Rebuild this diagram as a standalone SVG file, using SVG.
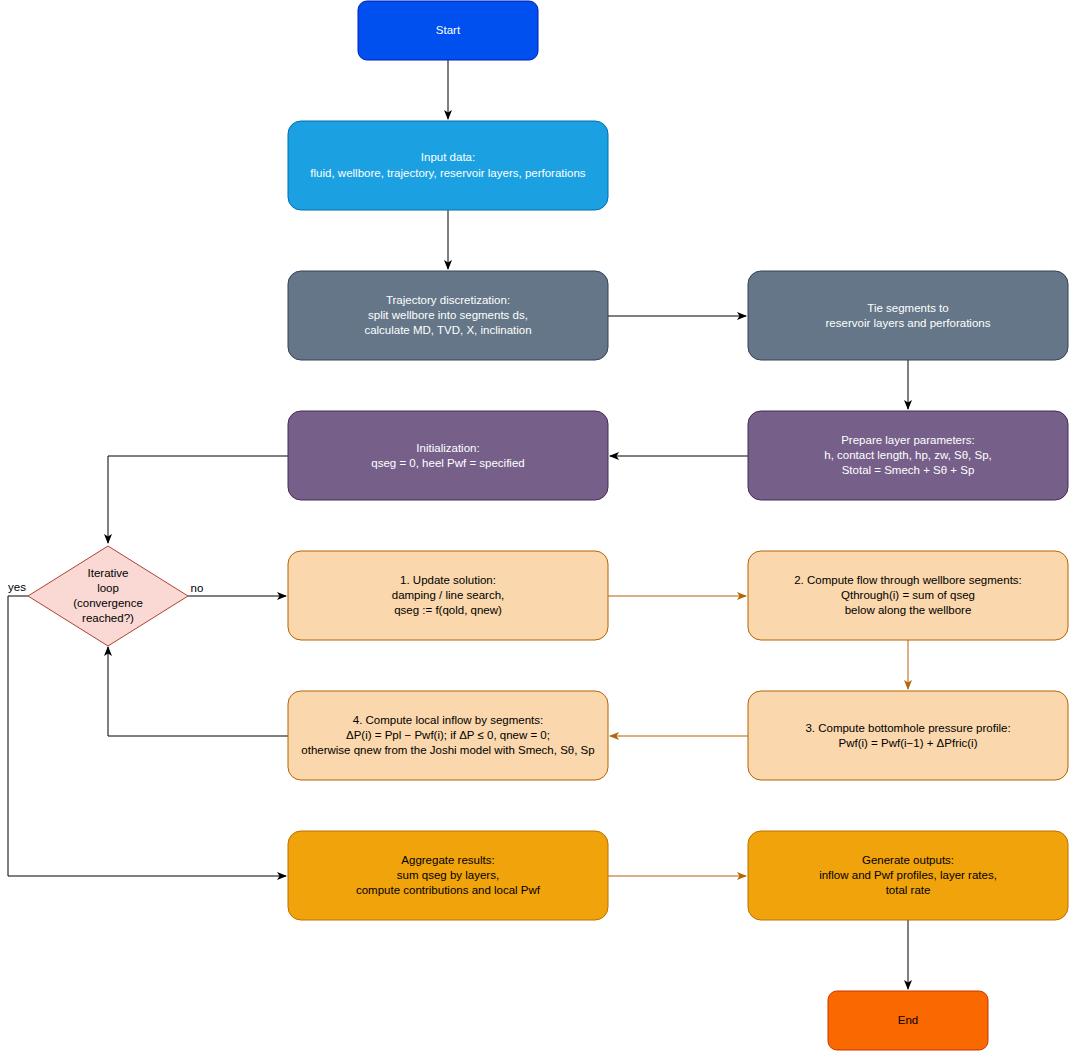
<svg xmlns="http://www.w3.org/2000/svg" width="1069" height="1051" viewBox="0 0 1069 1051">
<style>
text{font-family:"Liberation Sans",Arial,sans-serif;font-size:11.5px;text-anchor:middle}
.w{fill:#fff}.k{fill:#000}
.blk{stroke:#000;fill:none;stroke-width:1}
.brn{stroke:#b46504;fill:none;stroke-width:1}
</style>
<defs>
<marker id="ak" markerWidth="10" markerHeight="8" refX="9" refY="4" orient="auto" markerUnits="userSpaceOnUse"><path d="M0,0L10,4L0,8L2.5,4z" fill="#000"/></marker>
<marker id="ab" markerWidth="10" markerHeight="8" refX="9" refY="4" orient="auto" markerUnits="userSpaceOnUse"><path d="M0,0L10,4L0,8L2.5,4z" fill="#b46504"/></marker>
</defs>
<rect width="1069" height="1051" fill="#fff"/>
<g id="connectors">
<path class="blk" d="M448,60V119" marker-end="url(#ak)"/>
<path class="blk" d="M448,210V269" marker-end="url(#ak)"/>
<path class="blk" d="M608,316H746" marker-end="url(#ak)"/>
<path class="blk" d="M908,360V409" marker-end="url(#ak)"/>
<path class="blk" d="M748,456H610" marker-end="url(#ak)"/>
<path class="blk" d="M288,456H108V543" marker-end="url(#ak)"/>
<path class="blk" d="M188,596H286" marker-end="url(#ak)"/>
<path class="brn" d="M608,596H746" marker-end="url(#ab)"/>
<path class="brn" d="M908,640V689" marker-end="url(#ab)"/>
<path class="brn" d="M748,736H610" marker-end="url(#ab)"/>
<path class="blk" d="M288,736H108V647" marker-end="url(#ak)"/>
<path class="blk" d="M28,596H8V876H286" marker-end="url(#ak)"/>
<path class="brn" d="M608,876H746" marker-end="url(#ab)"/>
<path class="blk" d="M908,920V989" marker-end="url(#ak)"/>
<text x="17" y="591" class="k">yes</text>
<text x="197" y="592" class="k">no</text>
</g>
<g id="start"><rect x="358" y="1" width="180" height="59" rx="9" fill="#0050ef" stroke="#001dbc"/><text x="448" y="34" class="w">Start</text></g>
<g id="input"><rect x="288" y="121" width="320" height="89" rx="13" fill="#1ba1e2" stroke="#006eaf"/><text x="448" y="161" class="w">Input data:</text><text x="448" y="177" class="w">fluid, wellbore, trajectory, reservoir layers, perforations</text></g>
<g id="traj"><rect x="288" y="271" width="320" height="89" rx="13" fill="#647687" stroke="#314354"/><text x="448" y="304" class="w">Trajectory discretization:</text><text x="448" y="319" class="w">split wellbore into segments ds,</text><text x="448" y="334" class="w">calculate MD, TVD, X, inclination</text></g>
<g id="tie"><rect x="748" y="271" width="320" height="89" rx="13" fill="#647687" stroke="#314354"/><text x="908" y="312" class="w">Tie segments to</text><text x="908" y="327" class="w">reservoir layers and perforations</text></g>
<g id="init"><rect x="288" y="411" width="320" height="89" rx="13" fill="#76608a" stroke="#432d57"/><text x="448" y="452" class="w">Initialization:</text><text x="448" y="467" class="w">qseg = 0, heel Pwf = specified</text></g>
<g id="prep"><rect x="748" y="411" width="320" height="89" rx="13" fill="#76608a" stroke="#432d57"/><text x="908" y="444" class="w">Prepare layer parameters:</text><text x="908" y="459" class="w">h, contact length, hp, zw, Sθ, Sp,</text><text x="908" y="474" class="w">Stotal = Smech + Sθ + Sp</text></g>
<g id="loop"><path d="M108,546L188,596L108,646L28,596z" fill="#fad9d5" stroke="#ae4132"/><text x="108" y="577" class="k">Iterative</text><text x="108" y="592" class="k">loop</text><text x="108" y="607" class="k">(convergence</text><text x="108" y="622" class="k">reached?)</text></g>
<g id="upd"><rect x="288" y="551" width="320" height="89" rx="13" fill="#fad7ac" stroke="#b46504"/><text x="448" y="584" class="k">1. Update solution:</text><text x="448" y="599" class="k">damping / line search,</text><text x="448" y="614" class="k">qseg := f(qold, qnew)</text></g>
<g id="flow"><rect x="748" y="551" width="320" height="89" rx="13" fill="#fad7ac" stroke="#b46504"/><text x="908" y="584" class="k">2. Compute flow through wellbore segments:</text><text x="908" y="599" class="k">Qthrough(i) = sum of qseg</text><text x="908" y="614" class="k">below along the wellbore</text></g>
<g id="press"><rect x="748" y="691" width="320" height="89" rx="13" fill="#fad7ac" stroke="#b46504"/><text x="908" y="732" class="k">3. Compute bottomhole pressure profile:</text><text x="908" y="747" class="k">Pwf(i) = Pwf(i−1) + ΔPfric(i)</text></g>
<g id="inflow"><rect x="288" y="691" width="320" height="89" rx="13" fill="#fad7ac" stroke="#b46504"/><text x="448" y="724" class="k">4. Compute local inflow by segments:</text><text x="448" y="739" class="k">ΔP(i) = Ppl − Pwf(i); if ΔP ≤ 0, qnew = 0;</text><text x="448" y="754" class="k">otherwise qnew from the Joshi model with Smech, Sθ, Sp</text></g>
<g id="agg"><rect x="288" y="831" width="320" height="89" rx="13" fill="#f0a30a" stroke="#bd7000"/><text x="448" y="864" class="k">Aggregate results:</text><text x="448" y="879" class="k">sum qseg by layers,</text><text x="448" y="894" class="k">compute contributions and local Pwf</text></g>
<g id="out"><rect x="748" y="831" width="320" height="89" rx="13" fill="#f0a30a" stroke="#bd7000"/><text x="908" y="864" class="k">Generate outputs:</text><text x="908" y="879" class="k">inflow and Pwf profiles, layer rates,</text><text x="908" y="894" class="k">total rate</text></g>
<g id="end"><rect x="828" y="991" width="160" height="59" rx="9" fill="#fa6800" stroke="#c73500"/><text x="908" y="1024" class="k">End</text></g>
</svg>
